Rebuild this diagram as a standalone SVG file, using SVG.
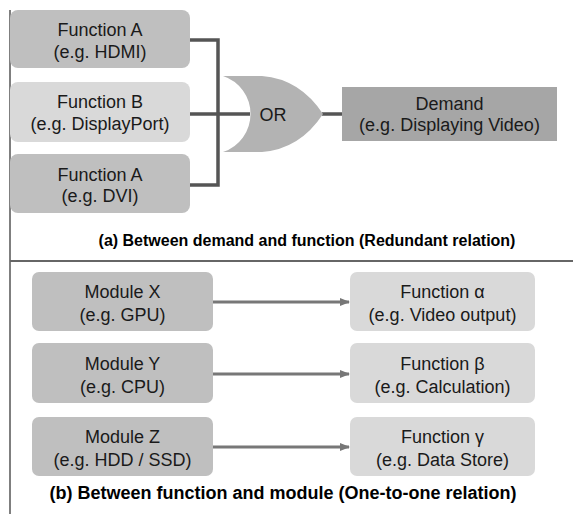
<svg xmlns="http://www.w3.org/2000/svg" width="573" height="514" viewBox="0 0 573 514">
<style>
.t{font-family:"Liberation Sans",Arial,sans-serif;font-size:18px;fill:#1a1a1a;text-anchor:middle}
.cap{font-family:"Liberation Sans",Arial,sans-serif;font-weight:bold;fill:#000;text-anchor:middle}
.dk{fill:#bfbfbf}
.lt{fill:#d9d9d9}
.wire{stroke:#555;stroke-width:3.5;fill:none}
.arr{stroke:#777;stroke-width:3;fill:none}
</style>
<defs>
<marker id="ah" markerWidth="10" markerHeight="8" refX="9" refY="4" orient="auto" markerUnits="userSpaceOnUse">
<path d="M0,0 L10,4 L0,8 Z" fill="#777"/>
</marker>
</defs>
<rect width="573" height="514" fill="#fff"/>
<line x1="10" y1="10" x2="10" y2="514" stroke="#555" stroke-width="1.5"/>
<line x1="10" y1="261" x2="573" y2="261" stroke="#666" stroke-width="2"/>
<g id="connectors">
<path class="wire" d="M190,40 H218 V185 H190"/>
<line class="wire" x1="190" y1="114" x2="250" y2="114"/>
<line class="wire" x1="322" y1="114" x2="342" y2="114"/>
<line class="arr" x1="213" y1="302" x2="349" y2="302" marker-end="url(#ah)"/>
<line class="arr" x1="213" y1="374" x2="349" y2="374" marker-end="url(#ah)"/>
<line class="arr" x1="213" y1="447" x2="349" y2="447" marker-end="url(#ah)"/>
</g>
<g id="funcA1"><rect class="dk" x="10" y="10" width="180" height="58" rx="8"/>
<text class="t" x="100" y="36">Function A</text><text class="t" x="100" y="58">(e.g. HDMI)</text></g>
<g id="funcB"><rect class="lt" x="10" y="82" width="180" height="60" rx="8"/>
<text class="t" x="100" y="108">Function B</text><text class="t" x="100" y="130">(e.g. DisplayPort)</text></g>
<g id="funcA2"><rect class="dk" x="10" y="154" width="180" height="59" rx="8"/>
<text class="t" x="100" y="181">Function A</text><text class="t" x="100" y="202">(e.g. DVI)</text></g>
<g id="orgate"><path d="M223,76 L262,76 Q300,79 323,114 Q300,149 262,152 L223,152 A40,40 0 0 0 223,76 Z" fill="#b3b3b3"/>
<text class="t" x="273" y="121">OR</text></g>
<g id="demand"><rect x="342" y="87" width="215" height="54" fill="#a6a6a6"/>
<text class="t" x="449.5" y="110">Demand</text><text class="t" x="449.5" y="131">(e.g. Displaying Video)</text></g>
<text class="cap" x="307" y="246" font-size="16">(a) Between demand and function (Redundant relation)</text>
<g id="modX"><rect class="dk" x="32" y="272" width="181" height="59" rx="7"/>
<text class="t" x="122.5" y="298">Module X</text><text class="t" x="122.5" y="321">(e.g. GPU)</text></g>
<g id="modY"><rect class="dk" x="32" y="343" width="181" height="60" rx="7"/>
<text class="t" x="122.5" y="370">Module Y</text><text class="t" x="122.5" y="393">(e.g. CPU)</text></g>
<g id="modZ"><rect class="dk" x="32" y="417" width="181" height="59" rx="7"/>
<text class="t" x="122.5" y="443">Module Z</text><text class="t" x="122.5" y="466">(e.g. HDD / SSD)</text></g>
<g id="fnAlpha"><rect class="lt" x="350" y="272" width="185" height="59" rx="7"/>
<text class="t" x="442.5" y="298">Function α</text><text class="t" x="442.5" y="321">(e.g. Video output)</text></g>
<g id="fnBeta"><rect class="lt" x="350" y="343" width="185" height="60" rx="7"/>
<text class="t" x="442.5" y="370">Function β</text><text class="t" x="442.5" y="393">(e.g. Calculation)</text></g>
<g id="fnGamma"><rect class="lt" x="350" y="417" width="185" height="59" rx="7"/>
<text class="t" x="442.5" y="443">Function γ</text><text class="t" x="442.5" y="466">(e.g. Data Store)</text></g>
<text class="cap" x="283" y="499" font-size="18">(b) Between function and module (One-to-one relation)</text>
</svg>
